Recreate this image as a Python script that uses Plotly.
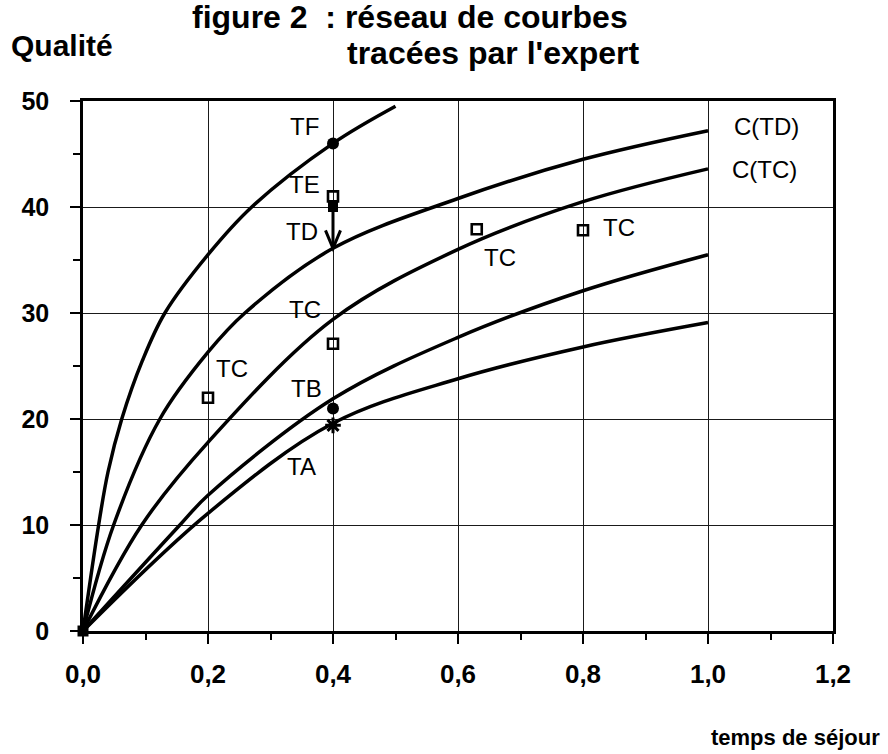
import plotly.graph_objects as go

# Expert curves: quality vs residence time
tf_x = [0, 0.025, 0.04, 0.062, 0.095, 0.131, 0.2, 0.27, 0.4, 0.5]
tf_y = [0, 10, 15, 20, 25.5, 30, 35.5, 40, 46, 49.5]

ctd_x = [0, 0.049, 0.123, 0.2, 0.259, 0.4, 0.6, 0.8, 1.0]
ctd_y = [0, 10, 20, 26.3, 30, 36.1, 40.8, 44.5, 47.2]

ctc_x = [0, 0.094, 0.2, 0.4, 0.6, 0.8, 1.0]
ctc_y = [0, 10, 17.8, 29.4, 36.0, 40.5, 43.6]

tb_x = [0, 0.155, 0.2, 0.4, 0.6, 0.8, 1.0]
tb_y = [0, 10, 12.8, 21.9, 27.7, 32.1, 35.5]

ta_x = [0, 0.2, 0.4, 0.6, 0.8, 1.0]
ta_y = [0, 11.1, 19.6, 23.8, 26.8, 29.1]

# Measured points
circle_x = [0.4, 0.4]
circle_y = [46, 21.0]
square_x = [0.4, 0.2, 0.4, 0.63, 0.8]
square_y = [41, 22, 27.1, 37.9, 37.8]
td_point = (0.4, 40)
star_point = (0.4, 19.4)
origin_point = (0, 0)

# Text labels placed in the plot
label_text = ["TF", "TE", "TD", "TC", "TC", "TB", "TA", "TC", "TC", "C(TD)", "C(TC)"]
label_x = [0.355, 0.355, 0.35, 0.355, 0.238, 0.358, 0.35, 0.667, 0.857, 1.094, 1.091]
label_y = [47.6, 42.1, 37.7, 30.3, 24.8, 22.9, 15.5, 35.25, 38.1, 47.6, 43.5]

x_ticks = [0, 0.2, 0.4, 0.6, 0.8, 1.0, 1.2]
y_ticks = [0, 10, 20, 30, 40, 50]

FONT = "Liberation Sans"
W, H = 888, 754
ML, MR, MT, MB = 83, 55, 101, 123
PW, PH = W - ML - MR, H - MT - MB

fig = go.Figure()

curve_style = dict(mode="lines", line=dict(color="black", width=3.5, shape="spline", smoothing=1.0),
                   hoverinfo="skip", showlegend=False)
for cx, cy in [(tf_x, tf_y), (ctd_x, ctd_y), (ctc_x, ctc_y), (tb_x, tb_y), (ta_x, ta_y)]:
    fig.add_trace(go.Scatter(x=cx, y=cy, **curve_style))

fig.add_trace(go.Scatter(x=circle_x, y=circle_y, mode="markers", showlegend=False,
                         marker=dict(symbol="circle", size=12, color="black")))
fig.add_trace(go.Scatter(x=square_x, y=square_y, mode="markers", showlegend=False,
                         marker=dict(symbol="square-open", size=10, color="black",
                                     line=dict(width=2.6, color="black"))))
fig.add_trace(go.Scatter(x=[td_point[0]], y=[td_point[1]], mode="markers", showlegend=False,
                         marker=dict(symbol="square", size=10, color="black")))
fig.add_trace(go.Scatter(x=[star_point[0]], y=[star_point[1]], mode="markers", showlegend=False,
                         marker=dict(symbol="asterisk-open", size=13, color="black",
                                     line=dict(width=3, color="black"))))
fig.add_trace(go.Scatter(x=[origin_point[0]], y=[origin_point[1]], mode="markers", showlegend=False,
                         cliponaxis=False,
                         marker=dict(symbol="square", size=11, color="black")))

# Arrow from the TD point down to the C(TD) curve
arrow_end = ctd_y[ctd_x.index(0.4)]
head_dx, head_dy = 0.012, 1.7
fig.add_shape(type="line", x0=td_point[0], y0=td_point[1], x1=td_point[0], y1=arrow_end,
              line=dict(color="black", width=3))
fig.add_shape(type="path",
              path=f"M {td_point[0]-head_dx},{arrow_end+head_dy} L {td_point[0]},{arrow_end} "
                   f"L {td_point[0]+head_dx},{arrow_end+head_dy}",
              line=dict(color="black", width=3))

for t, lx, ly in zip(label_text, label_x, label_y):
    fig.add_annotation(x=lx, y=ly, text=t, showarrow=False, xanchor="center", yanchor="middle",
                       font=dict(family=FONT, size=24, color="black"))

def px_x(p):
    return (p - ML) / PW

def px_y(p):
    return (H - MB - p) / PH

bold = dict(family=FONT, color="black", weight="bold")
fig.add_annotation(xref="paper", yref="paper", x=px_x(190), y=px_y(17), text="figure 2  : réseau de courbes",
                   showarrow=False, xanchor="left", yanchor="middle", font=dict(size=32, **bold))
fig.add_annotation(xref="paper", yref="paper", x=px_x(345), y=px_y(53), text="tracées par l'expert",
                   showarrow=False, xanchor="left", yanchor="middle", font=dict(size=32, **bold))
fig.add_annotation(xref="paper", yref="paper", x=px_x(9), y=px_y(46), text="Qualité",
                   showarrow=False, xanchor="left", yanchor="middle", font=dict(size=30, **bold))
fig.add_annotation(xref="paper", yref="paper", x=px_x(882), y=px_y(737), text="temps de séjour",
                   showarrow=False, xanchor="right", yanchor="middle", font=dict(size=22, **bold))

axis_common = dict(showgrid=True, gridcolor="#1a1a1a", gridwidth=1.3, zeroline=False,
                   showline=True, linecolor="black", linewidth=2.6, mirror=True,
                   ticks="outside", ticklen=10, tickwidth=1.5, tickcolor="black")

fig.update_xaxes(range=[0, 1.2], tickvals=x_ticks, tickformat=".1f", ticklabelstandoff=8,
                 tickfont=dict(size=26, **bold),
                 minor=dict(ticks="outside", ticklen=6, tickwidth=1.5, tickcolor="black", dtick=0.1,
                            showgrid=False),
                 **axis_common)
fig.update_yaxes(range=[0, 50], tickvals=y_ticks, ticklabelstandoff=16,
                 tickfont=dict(size=25, **bold),
                 minor=dict(ticks="outside", ticklen=7, tickwidth=1.5, tickcolor="black", dtick=5,
                            showgrid=False),
                 **axis_common)

fig.update_layout(width=W, height=H, margin=dict(l=ML, r=MR, t=MT, b=MB),
                  plot_bgcolor="white", paper_bgcolor="white", separators=", ",
                  font=dict(family=FONT, color="black"))

fig.write_html("out.html")
